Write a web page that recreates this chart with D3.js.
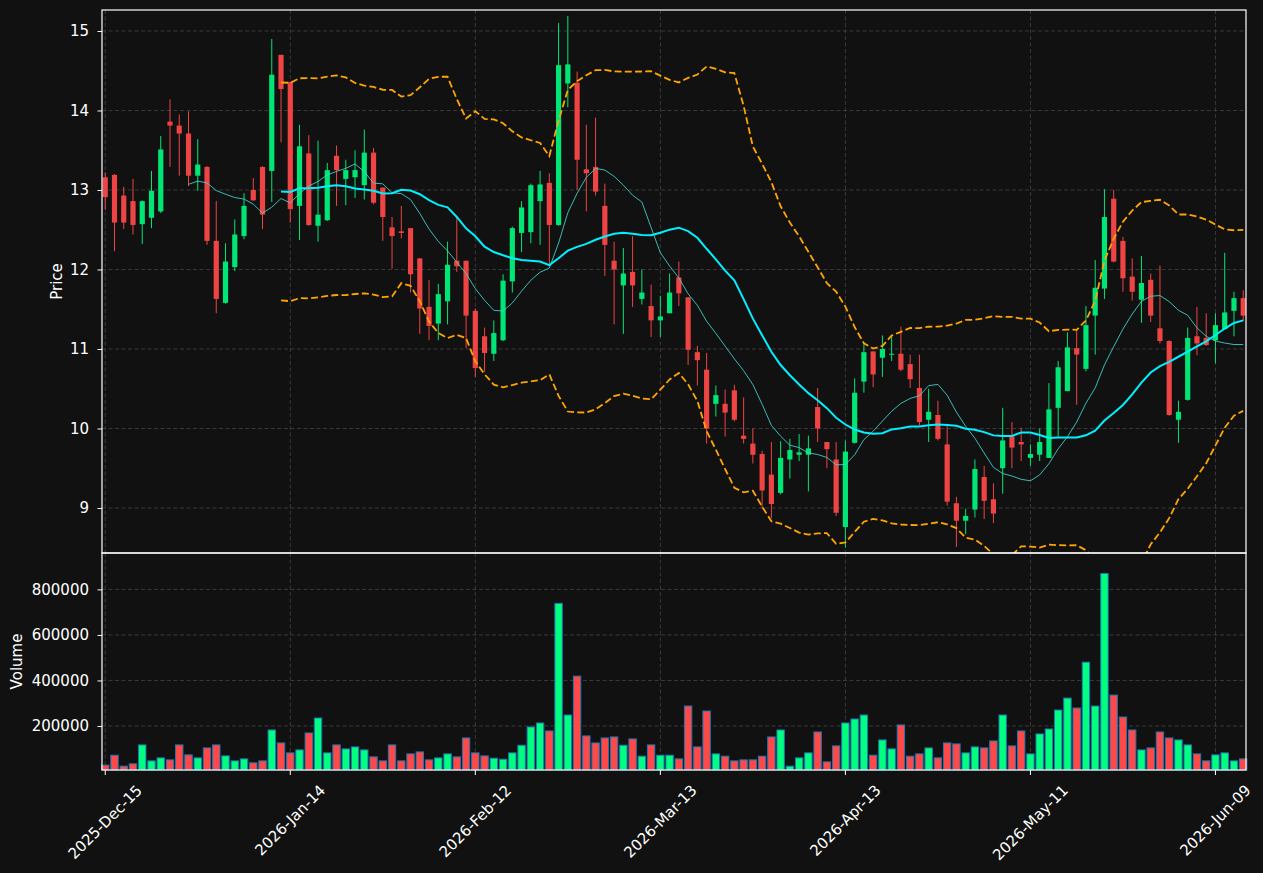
<!DOCTYPE html>
<html>
<head>
<meta charset="utf-8">
<script src="https://cdn.jsdelivr.net/npm/d3@7"></script>
<style>
    body { margin: 0; background: #111111; }
    text { font-family: "DejaVu Sans", sans-serif; }
</style>
</head>
<body>
<div id="chart"></div>
<script>
// daily OHLC, one entry per trading day
var opens = [13.16, 13.19, 12.93, 12.86, 12.57, 12.65, 12.73, 13.86, 13.81, 13.71,
    13.18, 13.29, 12.36, 11.58, 12.03, 12.42, 13.00, 13.29, 13.24, 14.70,
    14.36, 12.80, 13.46, 12.55, 12.62, 13.43, 13.14, 13.16, 13.06, 13.47,
    13.03, 12.53, 12.48, 12.52, 12.14, 11.53, 11.32, 11.60, 12.11, 12.11,
    11.48, 11.16, 10.94, 11.11, 11.85, 12.46, 12.47, 12.86, 13.09, 12.56,
    14.34, 14.35, 13.26, 13.29, 12.80, 12.11, 11.80, 11.97, 11.63, 11.54,
    11.36, 11.45, 11.90, 11.65, 10.96, 10.74, 10.31, 10.31, 10.48, 9.91,
    9.81, 9.68, 9.42, 9.19, 9.61, 9.67, 9.67, 10.27, 9.83, 9.61,
    8.76, 9.82, 10.59, 10.97, 10.89, 10.93, 10.94, 10.81, 10.51, 10.11,
    10.17, 9.80, 9.06, 8.84, 8.98, 9.39, 9.11, 9.50, 9.90, 9.83,
    9.63, 9.67, 9.63, 10.26, 10.47, 11.01, 10.75, 11.42, 11.76, 12.89,
    12.36, 11.91, 11.62, 11.87, 11.26, 11.10, 10.11, 10.36, 11.16, 11.14,
    11.11, 11.25, 11.48, 11.64];
var highs = [13.22, 13.20, 13.04, 13.14, 12.87, 13.24, 13.68, 14.14, 13.95, 13.99,
    13.64, 13.30, 12.86, 12.33, 12.63, 12.96, 13.15, 13.30, 14.90, 14.70,
    14.36, 13.82, 13.69, 13.62, 13.34, 13.56, 13.38, 13.50, 13.76, 13.53,
    13.03, 12.66, 12.80, 12.52, 12.14, 11.87, 11.82, 12.35, 12.66, 12.11,
    11.51, 11.27, 11.36, 11.94, 12.54, 12.86, 13.08, 13.24, 13.21, 15.10,
    15.19, 14.49, 13.82, 13.91, 13.08, 12.35, 12.27, 12.42, 12.00, 11.81,
    11.67, 11.95, 12.10, 11.65, 11.04, 10.95, 10.54, 10.49, 10.55, 10.39,
    10.00, 9.72, 9.83, 9.84, 9.87, 9.93, 9.91, 10.51, 9.83, 9.83,
    9.85, 10.63, 11.06, 10.97, 11.17, 11.16, 11.28, 10.93, 10.93, 10.50,
    10.35, 10.04, 9.14, 8.99, 9.61, 9.53, 9.31, 10.26, 10.08, 10.01,
    9.80, 10.00, 10.57, 10.85, 11.21, 11.24, 11.54, 12.12, 13.01, 13.00,
    12.41, 12.14, 12.17, 11.95, 12.05, 11.11, 10.35, 11.27, 11.53, 11.45,
    11.45, 12.21, 11.72, 11.74];
var lows = [12.75, 12.23, 12.51, 12.44, 12.32, 12.52, 12.71, 13.29, 13.18, 13.05,
    12.99, 12.31, 11.45, 11.57, 11.98, 12.38, 12.86, 12.51, 12.85, 13.60,
    12.59, 12.37, 12.55, 12.35, 12.61, 12.80, 12.81, 12.90, 12.88, 12.82,
    12.36, 12.01, 12.39, 11.71, 11.19, 11.11, 11.11, 11.31, 11.97, 11.01,
    10.65, 10.71, 10.85, 11.10, 11.71, 12.22, 12.33, 12.31, 12.06, 12.55,
    14.04, 13.00, 12.73, 12.93, 11.92, 11.31, 11.19, 11.53, 11.56, 11.15,
    11.15, 11.45, 11.54, 10.80, 10.54, 9.81, 10.15, 9.90, 10.09, 9.81,
    9.56, 8.99, 8.87, 9.17, 9.37, 9.59, 9.21, 9.83, 9.50, 8.90,
    8.50, 9.81, 10.45, 10.52, 10.65, 10.85, 10.72, 10.51, 10.04, 9.83,
    9.85, 9.03, 8.51, 8.67, 8.88, 8.86, 8.81, 9.18, 9.50, 9.59,
    9.53, 9.59, 9.63, 9.90, 10.47, 10.30, 10.72, 10.93, 11.63, 12.09,
    11.72, 11.61, 11.33, 11.34, 11.07, 10.16, 9.82, 10.35, 10.92, 11.04,
    10.82, 11.25, 11.16, 11.35];
var closes = [12.91, 12.59, 12.59, 12.56, 12.86, 12.99, 13.51, 13.81, 13.71, 13.18,
    13.32, 12.36, 11.63, 12.10, 12.44, 12.80, 12.87, 12.69, 14.45, 14.27,
    12.76, 13.55, 12.56, 12.69, 13.25, 13.25, 13.25, 13.25, 13.47, 12.84,
    12.66, 12.42, 12.46, 11.94, 11.51, 11.29, 11.69, 12.06, 12.04, 11.42,
    10.76, 10.95, 11.20, 11.86, 12.52, 12.78, 13.06, 13.07, 12.56, 14.57,
    14.58, 13.38, 13.21, 12.98, 12.31, 12.00, 11.95, 11.80, 11.71, 11.36,
    11.41, 11.71, 11.70, 10.99, 10.86, 10.00, 10.42, 10.20, 10.11, 9.87,
    9.67, 9.22, 9.05, 9.63, 9.73, 9.70, 9.75, 10.00, 9.74, 8.94,
    9.71, 10.45, 10.96, 10.68, 11.00, 10.94, 10.74, 10.62, 10.08, 10.21,
    9.87, 9.08, 8.84, 8.90, 9.49, 9.09, 8.93, 9.85, 9.76, 9.80,
    9.68, 9.83, 10.24, 10.77, 11.02, 10.93, 11.30, 11.77, 12.66, 12.10,
    11.89, 11.72, 11.83, 11.42, 11.10, 10.17, 10.21, 11.14, 11.07, 11.05,
    11.30, 11.46, 11.64, 11.42];
var volumes = [28000, 71500, 23400, 33600, 116800, 46700, 59900, 51100, 116800, 73000,
    59900, 103600, 116800, 68600, 46700, 55500, 38000, 46700, 182500, 125500,
    81800, 94900, 169300, 235000, 81800, 116800, 99300, 108000, 94900, 64200,
    46700, 116800, 46700, 77400, 86100, 51100, 59900, 77400, 64200, 147400,
    81800, 68600, 58400, 54000, 81800, 115300, 195600, 213100, 178100, 738700,
    248200, 419000, 156200, 125500, 147400, 151800, 115300, 143100, 67200, 116800,
    71500, 71500, 55500, 287600, 108000, 265700, 77400, 67200, 46700, 51100,
    51100, 67200, 151800, 182500, 23400, 59900, 81800, 173700, 42300, 112400,
    213100, 230700, 248200, 71500, 138700, 99300, 204400, 67200, 77400, 103600,
    59900, 125500, 121200, 81800, 108000, 103600, 134300, 248200, 112400, 178100,
    77400, 165000, 186900, 270100, 322600, 278800, 480300, 287600, 870000, 335800,
    239400, 182500, 94900, 103600, 173700, 147400, 138700, 116800, 77400, 46700,
    73000, 81800, 46700, 55500];

var dateTickIndex = [0, 20, 40, 60, 80, 100, 120];
var dateTickLabels = ["2025-Dec-15", "2026-Jan-14", "2026-Feb-12", "2026-Mar-13",
    "2026-Apr-13", "2026-May-11", "2026-Jun-09"];
var priceTicks = [9, 10, 11, 12, 13, 14, 15];
var volumeTicks = [200000, 400000, 600000, 800000];

var fontSize = 15;
var upColor = "#00e676", downColor = "#ef4444";
var volUp = "#00ff7f", volDown = "#ff4848";

var plot = { left: 102, right: 1246, top: 10, mid: 553, bottom: 770 };

var svg = d3.select("#chart").append("svg")
    .attr("width", 1263)
    .attr("height", 873)
    .style("background", "#111111");

var x = d3.scaleLinear().domain([-0.35, 123.3]).range([plot.left, plot.right]);
var yPrice = d3.scaleLinear().domain([8.434, 15.264]).range([plot.mid, plot.top]);
var yVol = d3.scaleLinear().domain([6600, 960000]).range([plot.bottom, plot.mid]);

var step = x(1) - x(0);

svg.append("defs").append("clipPath").attr("id", "clipPrice")
    .append("rect")
    .attr("x", plot.left).attr("y", plot.top)
    .attr("width", plot.right - plot.left).attr("height", plot.mid - plot.top);

// grids
function grid(g, yScale, ticks, y0, y1) {
    g.selectAll(".hgrid").data(ticks).enter().append("line")
        .attr("x1", plot.left).attr("x2", plot.right)
        .attr("y1", function (d) { return yScale(d); })
        .attr("y2", function (d) { return yScale(d); })
        .attr("stroke", "#555").attr("stroke-opacity", 0.6)
        .attr("stroke-dasharray", "4,2.5");
    g.selectAll(".vgrid").data(dateTickIndex).enter().append("line")
        .attr("x1", function (d) { return x(d); })
        .attr("x2", function (d) { return x(d); })
        .attr("y1", y0).attr("y2", y1)
        .attr("stroke", "#555").attr("stroke-opacity", 0.6)
        .attr("stroke-dasharray", "4,2.5");
}
grid(svg.append("g"), yPrice, priceTicks, plot.top, plot.mid);
grid(svg.append("g"), yVol, volumeTicks, plot.mid, plot.bottom);

var candles = closes.map(function (c, i) {
    return { i: i, o: opens[i], h: highs[i], l: lows[i], c: c, v: volumes[i] };
});

// candles
var cg = svg.append("g").attr("clip-path", "url(#clipPrice)");
var bodyW = step * 0.56;
cg.selectAll(".wick").data(candles).enter().append("line")
    .attr("x1", function (d) { return x(d.i); })
    .attr("x2", function (d) { return x(d.i); })
    .attr("y1", function (d) { return yPrice(d.h); })
    .attr("y2", function (d) { return yPrice(d.l); })
    .attr("stroke", function (d) { return d.c >= d.o ? upColor : downColor; })
    .attr("stroke-width", 1);
cg.selectAll(".body").data(candles).enter().append("rect")
    .attr("x", function (d) { return x(d.i) - bodyW / 2; })
    .attr("width", bodyW)
    .attr("y", function (d) { return yPrice(Math.max(d.o, d.c)); })
    .attr("height", function (d) { return Math.max(1, Math.abs(yPrice(d.o) - yPrice(d.c))); })
    .attr("fill", function (d) { return d.c >= d.o ? upColor : downColor; });

// moving averages and bollinger bands from the closes
function rolling(n) {
    var out = [];
    for (var i = n - 1; i < closes.length; i++) {
        var w = closes.slice(i - n + 1, i + 1);
        var m = d3.mean(w);
        var sd = Math.sqrt(d3.mean(w, function (v) { return (v - m) * (v - m); }));
        out.push({ i: i, m: m, up: m + 2 * sd, lo: m - 2 * sd });
    }
    return out;
}
var ma10 = rolling(10), ma20 = rolling(20);

function line(acc) {
    return d3.line().x(function (d) { return x(d.i); }).y(function (d) { return yPrice(acc(d)); });
}
cg.append("path").datum(ma20).attr("d", line(function (d) { return d.up; }))
    .attr("fill", "none").attr("stroke", "#ffa500").attr("stroke-width", 1.8)
    .attr("stroke-dasharray", "7,3.2");
cg.append("path").datum(ma20).attr("d", line(function (d) { return d.lo; }))
    .attr("fill", "none").attr("stroke", "#ffa500").attr("stroke-width", 1.8)
    .attr("stroke-dasharray", "7,3.2");
cg.append("path").datum(ma10).attr("d", line(function (d) { return d.m; }))
    .attr("fill", "none").attr("stroke", "#40d8d0").attr("stroke-opacity", 0.85).attr("stroke-width", 1);
cg.append("path").datum(ma20).attr("d", line(function (d) { return d.m; }))
    .attr("fill", "none").attr("stroke", "#00f0ff").attr("stroke-width", 2);

// volume bars
var barW = step * 0.8;
svg.append("g").selectAll("rect").data(candles).enter().append("rect")
    .attr("x", function (d) { return x(d.i) - barW / 2; })
    .attr("width", barW)
    .attr("y", function (d) { return yVol(d.v); })
    .attr("height", function (d) { return plot.bottom - yVol(d.v); })
    .attr("fill", function (d) { return d.c >= d.o ? volUp : volDown; })
    .attr("stroke", "#1f77b4").attr("stroke-width", 1);

// frames
svg.append("rect").attr("x", plot.left).attr("y", plot.top)
    .attr("width", plot.right - plot.left).attr("height", plot.mid - plot.top)
    .attr("fill", "none").attr("stroke", "#ffffff").attr("stroke-width", 1.2);
svg.append("rect").attr("x", plot.left).attr("y", plot.mid)
    .attr("width", plot.right - plot.left).attr("height", plot.bottom - plot.mid)
    .attr("fill", "none").attr("stroke", "#ffffff").attr("stroke-width", 1.2);

// y axes
function yAxis(scale, ticks) {
    var g = svg.append("g").attr("transform", "translate(" + plot.left + ",0)")
        .call(d3.axisLeft(scale).tickValues(ticks).tickSize(4.5).tickPadding(8.5).tickFormat(d3.format("d")));
    g.select(".domain").remove();
    g.selectAll(".tick line").attr("stroke", "#ffffff");
    g.selectAll(".tick text").attr("fill", "#ffffff").style("font-size", fontSize + "px")
        .style("font-family", "DejaVu Sans");
}
yAxis(yPrice, priceTicks);
yAxis(yVol, volumeTicks);

// x axis
var xg = svg.append("g");
xg.selectAll("line").data(dateTickIndex).enter().append("line")
    .attr("x1", function (d) { return x(d); }).attr("x2", function (d) { return x(d); })
    .attr("y1", plot.bottom).attr("y2", plot.bottom + 5)
    .attr("stroke", "#ffffff");
xg.selectAll("text").data(dateTickIndex).enter().append("text")
    .attr("text-anchor", "middle")
    .attr("dominant-baseline", "central")
    .attr("fill", "#ffffff")
    .style("font-size", fontSize + "px")
    .text(function (d, i) { return dateTickLabels[i]; })
    .each(function (d) {
        var len = this.getComputedTextLength();
        var half = (len + fontSize * 1.1) * Math.SQRT1_2 / 2;
        d3.select(this).attr("transform",
            "translate(" + x(d) + "," + (plot.bottom + 12 + half) + ") rotate(-45)");
    });

// axis titles
svg.append("text")
    .attr("transform", "translate(57," + ((plot.top + plot.mid) / 2) + ") rotate(-90)")
    .attr("text-anchor", "middle").attr("dominant-baseline", "central")
    .attr("fill", "#ffffff").style("font-size", fontSize + "px")
    .text("Price");
svg.append("text")
    .attr("transform", "translate(17," + ((plot.mid + plot.bottom) / 2) + ") rotate(-90)")
    .attr("text-anchor", "middle").attr("dominant-baseline", "central")
    .attr("fill", "#ffffff").style("font-size", fontSize + "px")
    .text("Volume");
</script>
</body>
</html>
